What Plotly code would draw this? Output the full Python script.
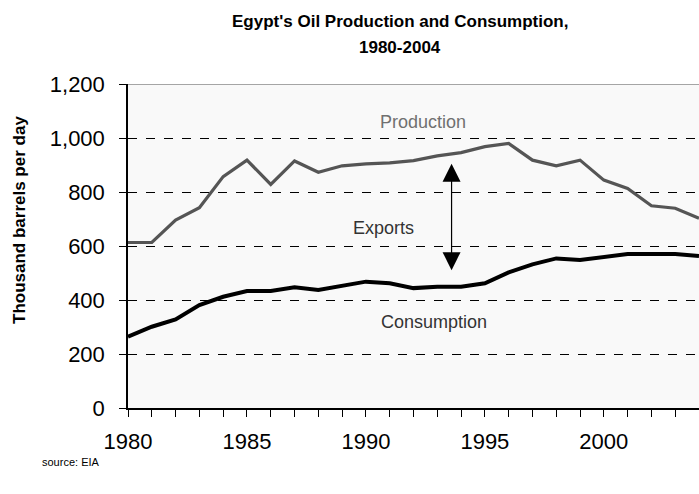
import plotly.graph_objects as go

years = list(range(1980, 2005))
production = [613, 613, 696, 742, 857, 918, 828, 915, 873, 897, 904, 908, 916,
              934, 946, 968, 980, 918, 897, 918, 844, 813, 749, 740, 703]
consumption = [264, 301, 328, 381, 412, 433, 433, 447, 437, 452, 468, 462, 444,
               449, 449, 462, 502, 532, 554, 548, 560, 570, 570, 570, 563]
y_ticks = [0, 200, 400, 600, 800, 1000, 1200]

FONT = "Liberation Sans, Arial, sans-serif"
W, H = 699, 494
ML, MR, MT, MB = 128, 0, 84, 86
PW, PH = W - ML - MR, H - MT - MB


def px(xp, yp):
    """Pixel position on the page -> paper coordinates."""
    return (xp - ML) / PW, (H - MB - yp) / PH


fig = go.Figure()
fig.add_trace(go.Scatter(x=years, y=production, mode="lines",
                         line=dict(color="#555555", width=3.2), cliponaxis=False))
fig.add_trace(go.Scatter(x=years, y=consumption, mode="lines",
                         line=dict(color="#000000", width=4), cliponaxis=False))

# series labels
fig.add_annotation(x=1992.42, y=1059, text="Production", showarrow=False,
                   font=dict(family=FONT, size=18, color="#707070"))
fig.add_annotation(x=1990.72, y=667, text="Exports", showarrow=False,
                   font=dict(family=FONT, size=18, color="#333333"))
fig.add_annotation(x=1992.86, y=319, text="Consumption", showarrow=False,
                   font=dict(family=FONT, size=18, color="#333333"))

# double-headed arrow marking the export gap
fig.add_annotation(x=1993.6, y=905, ax=1993.6, ay=505, xref="x", yref="y",
                   axref="x", ayref="y", text="", showarrow=True,
                   arrowhead=2, startarrowhead=2, arrowside="end+start",
                   arrowsize=3.0, startarrowsize=3.0, arrowwidth=1.2,
                   arrowcolor="#000000")

# top frame line
fig.add_shape(type="line", xref="paper", yref="y", x0=0, x1=1, y0=1200, y1=1200,
              line=dict(color="#888888", width=1.5))

# title (two lines)
for text, yp in [("Egypt's Oil Production and Consumption,", 21), ("1980-2004", 48)]:
    xx, yy = px(400, yp)
    fig.add_annotation(x=xx, y=yy, xref="paper", yref="paper", text=f"<b>{text}</b>",
                       showarrow=False, xanchor="center", yanchor="middle",
                       font=dict(family=FONT, size=17, color="#000000"))

# y-axis title
xx, yy = px(19, 220)
fig.add_annotation(x=xx, y=yy, xref="paper", yref="paper",
                   text="<b>Thousand barrels per day</b>", textangle=-90,
                   showarrow=False, xanchor="center", yanchor="middle",
                   font=dict(family=FONT, size=17, color="#000000"))

# source note
xx, yy = px(40, 462)
fig.add_annotation(x=xx, y=yy, xref="paper", yref="paper", text="source: EIA",
                   showarrow=False, xanchor="left", yanchor="middle",
                   font=dict(family=FONT, size=11, color="#000000"))

fig.update_layout(
    width=W, height=H,
    margin=dict(l=ML, r=MR, t=MT, b=MB),
    paper_bgcolor="white", plot_bgcolor="#f9f9f9",
    showlegend=False,
    font=dict(family=FONT),
)
fig.update_xaxes(range=[1980, 2004], tickvals=years,
                 ticktext=[str(y) if y % 5 == 0 else "" for y in years],
                 ticks="outside", ticklen=7, tickcolor="#000000", tickwidth=1,
                 ticklabelstandoff=6,
                 showline=True, linecolor="#000000", linewidth=1.5,
                 showgrid=False, zeroline=False,
                 tickfont=dict(family=FONT, size=22, color="#000000"))
fig.update_yaxes(range=[0, 1200], tickvals=y_ticks, tickformat=",",
                 ticks="outside", ticklen=7, tickcolor="#000000",
                 ticklabelstandoff=10,
                 showline=True, linecolor="#000000", linewidth=1.5,
                 showgrid=True, gridcolor="#000000", gridwidth=1, griddash="dash",
                 zeroline=False,
                 tickfont=dict(family=FONT, size=22, color="#000000"))

fig.write_html("out.html")
